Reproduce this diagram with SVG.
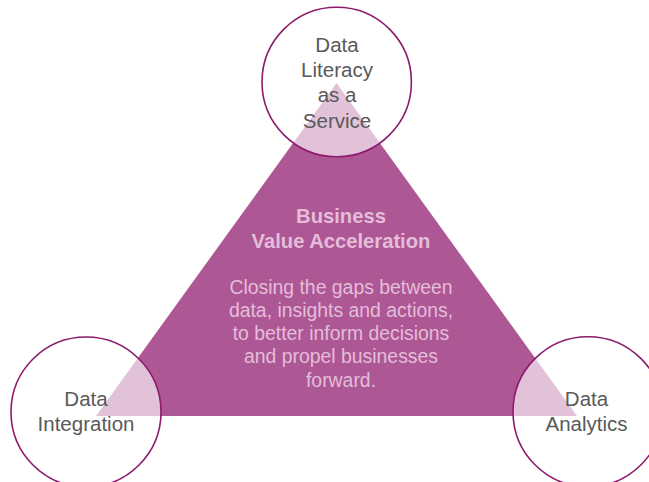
<svg xmlns="http://www.w3.org/2000/svg" width="649" height="482" viewBox="0 0 649 482">
<style>
.circ{fill:#ffffff;fill-opacity:0.64;stroke:#8c1b6c;stroke-width:1.6}
.lbl{font-family:"Liberation Sans",Arial,sans-serif;font-size:20.5px;fill:#595959;text-anchor:middle}
.ttl{font-family:"Liberation Sans",Arial,sans-serif;font-size:20.2px;font-weight:bold;fill:#e4bdd9;text-anchor:middle}
.body{font-family:"Liberation Sans",Arial,sans-serif;font-size:19.4px;fill:#e4bdd9;text-anchor:middle}
</style>
<rect width="649" height="482" fill="#ffffff"/>
<g id="triangle">
<polygon points="336.5,83 96,416 577,416" fill="#ad5795"/>
<text class="ttl" x="341" y="222.5">Business</text>
<text class="ttl" x="341" y="247.5">Value Acceleration</text>
<text class="body" x="341" y="293.5">Closing the gaps between</text>
<text class="body" x="341" y="316.8">data, insights and actions,</text>
<text class="body" x="341" y="340">to better inform decisions</text>
<text class="body" x="341" y="363.2">and propel businesses</text>
<text class="body" x="341" y="386.5">forward.</text>
</g>
<g id="connectors"></g>
<g id="literacy">
<circle class="circ" cx="336.7" cy="82" r="74.7"/>
<text class="lbl" x="337" y="52.3">Data</text>
<text class="lbl" x="337" y="77">Literacy</text>
<text class="lbl" x="337" y="102.3">as a</text>
<text class="lbl" x="337" y="127.5">Service</text>
</g>
<g id="integration">
<circle class="circ" cx="86" cy="412" r="75"/>
<text class="lbl" x="86" y="406">Data</text>
<text class="lbl" x="86" y="431">Integration</text>
</g>
<g id="analytics">
<circle class="circ" cx="588" cy="411.7" r="75"/>
<text class="lbl" x="586.5" y="406">Data</text>
<text class="lbl" x="586.5" y="431">Analytics</text>
</g>
</svg>
